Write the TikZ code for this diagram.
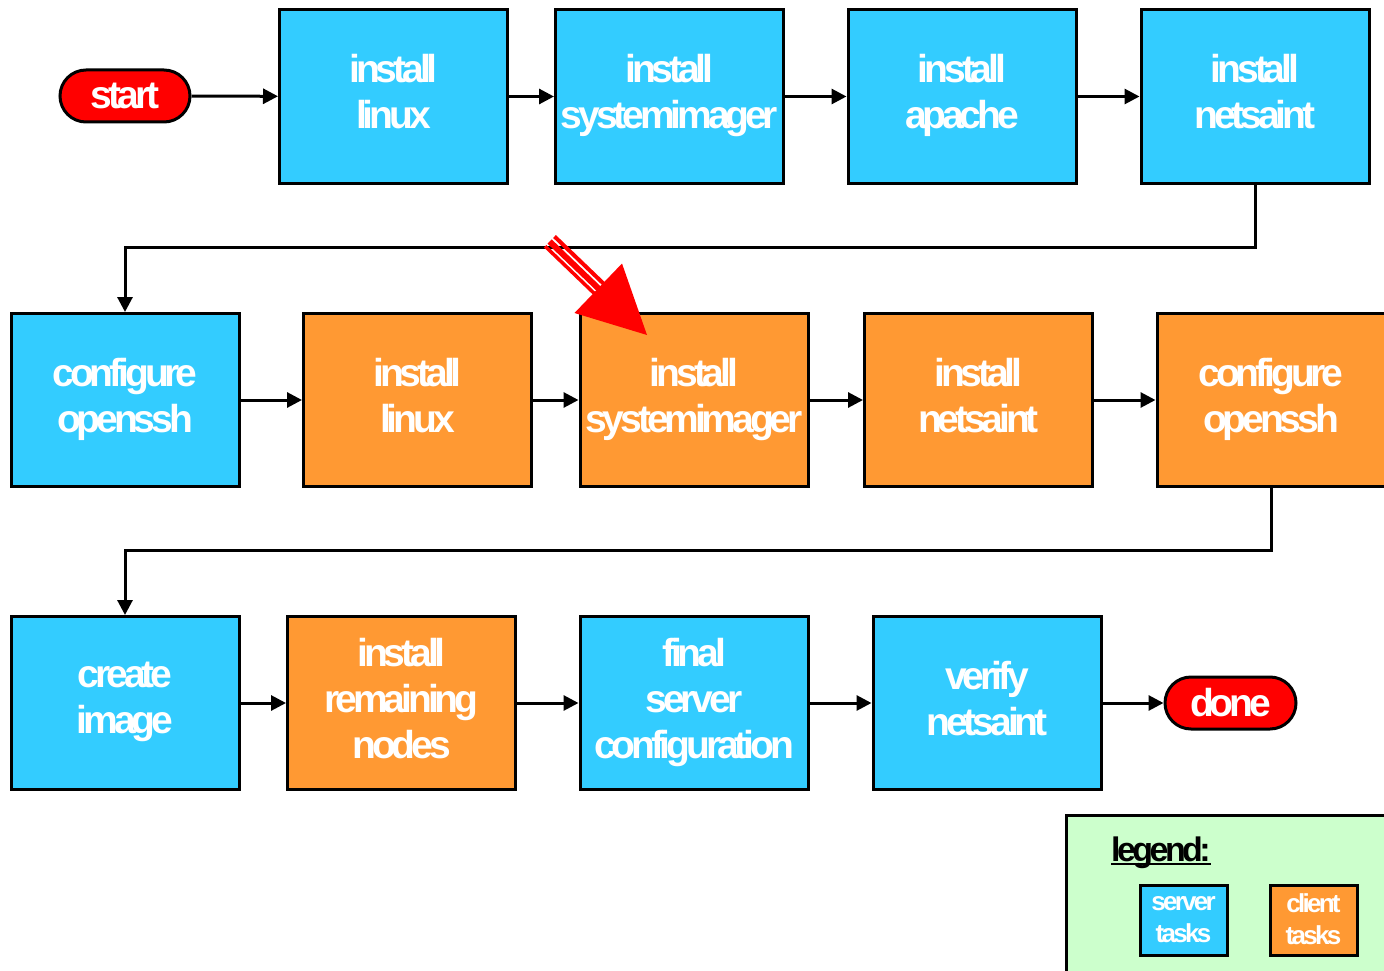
\documentclass[tikz,border=0pt]{standalone}
\usepackage{fontspec}
\usetikzlibrary{arrows.meta,calc}
\newfontfamily\arialb{Liberation Sans}[LetterSpace=-10.5]
\definecolor{srvblue}{HTML}{33CCFF}
\definecolor{cliorange}{HTML}{FF9933}
\definecolor{lgreen}{HTML}{CCFFCC}
\definecolor{redfill}{HTML}{FF0000}
\newcommand\boxstrut{\rule[-9.5pt]{0pt}{52pt}}
\newcommand\ministrut{\rule[-2pt]{0pt}{32pt}}
\tikzset{
  task/.style={draw=black, line width=3pt, minimum width=228pt, minimum height=173pt,
    align=center, text=white, inner sep=0pt,
    execute at begin node=\boxstrut, execute at end node=\boxstrut,
    font=\arialb\bfseries\fontsize{39}{46}\selectfont},
  srv/.style={task, fill=srvblue},
  cli/.style={task, fill=cliorange},
  term/.style={draw=black, line width=3pt, fill=redfill, rounded corners=26pt,
    minimum width=130pt, minimum height=52pt, text=white, inner sep=0pt,
    font=\arialb\bfseries\fontsize{39}{46}\selectfont},
  conn/.style={line width=3pt, -{Triangle[length=15pt,width=15pt]}},
  mini/.style={draw=black, line width=3pt, minimum width=87pt, minimum height=70pt,
    align=center, text=white, inner sep=0pt,
    execute at begin node=\ministrut, execute at end node=\ministrut,
    font=\arialb\bfseries\fontsize{26}{32}\selectfont},
  stripe/.style={draw=redfill, line cap=butt},
}
\begin{document}
\begin{tikzpicture}[x=1pt,y=-1pt]
\useasboundingbox (0,0) rectangle (1384,971);
% row 1
\node[term] (start) at (125,96) {start};
\node[srv] (a1) at (393.5,96.5) {install\\linux};
\node[srv] (a2) at (669.5,96.5) {install\\systemimager};
\node[srv] (a3) at (962,96.5) {install\\apache};
\node[srv] (a4) at (1255,96.5) {install\\netsaint};
% row 2
\node[srv] (b1) at (125,400) {configure\\openssh};
\node[cli] (b2) at (417.5,400) {install\\linux};
\node[cli] (b3) at (694,400) {install\\systemimager};
\node[cli] (b4) at (978.5,400) {install\\netsaint};
\node[cli] (b5) at (1271,400) {configure\\openssh};
% row 3
\node[srv] (c1) at (125,703) {create\\image};
\node[cli] (c2) at (401.5,703) {install\\remaining\\nodes};
\node[srv] (c3) at (694,703) {final\\server\\configuration};
\node[srv] (c4) at (987,703) {verify\\netsaint};
\node[term, minimum width=131pt] (done) at (1230.5,703) {done};
% connectors
\draw[conn] (start) -- (a1);
\draw[conn] (a1) -- (a2);
\draw[conn] (a2) -- (a3);
\draw[conn] (a3) -- (a4);
\coordinate (m1) at (0,247);
\draw[conn] (a4.south) -- (a4.south |- m1) -| (b1.north);
\draw[conn] (b1) -- (b2);
\draw[conn] (b2) -- (b3);
\draw[conn] (b3) -- (b4);
\draw[conn] (b4) -- (b5);
\coordinate (m2) at (0,550);
\draw[conn] (b5.south) -- (b5.south |- m2) -| (c1.north);
\draw[conn] (c1) -- (c2);
\draw[conn] (c2) -- (c3);
\draw[conn] (c3) -- (c4);
\draw[conn] (c4) -- (done);
% red striped arrow
\draw[stripe, line width=3.5pt] (545.1,246.2) -- (599.2,298.2);
\draw[stripe, line width=6pt] (549.6,241.5) -- (603.7,293.5);
\draw[stripe, line width=4pt] (554.5,236.5) -- (608.6,288.5);
\fill[redfill] (647,335) -- (622,263.5) -- (574.5,313) -- cycle;
% legend
\draw[fill=lgreen, line width=3pt] (1066,815) rectangle (1400,990);
\node[inner sep=0pt, anchor=base west, font=\arialb\bfseries\fontsize{34}{40}\selectfont] (lg) at (1111,861) {legend:};
\draw[line width=2pt] ([yshift=-3pt]lg.base west) -- ([yshift=-3pt]lg.base east);
\node[mini, fill=srvblue] (ls) at (1183.5,920) {server\\tasks};
\node[mini, fill=cliorange] (lc) at (1313.5,920) {client\\tasks};
\end{tikzpicture}
\end{document}
